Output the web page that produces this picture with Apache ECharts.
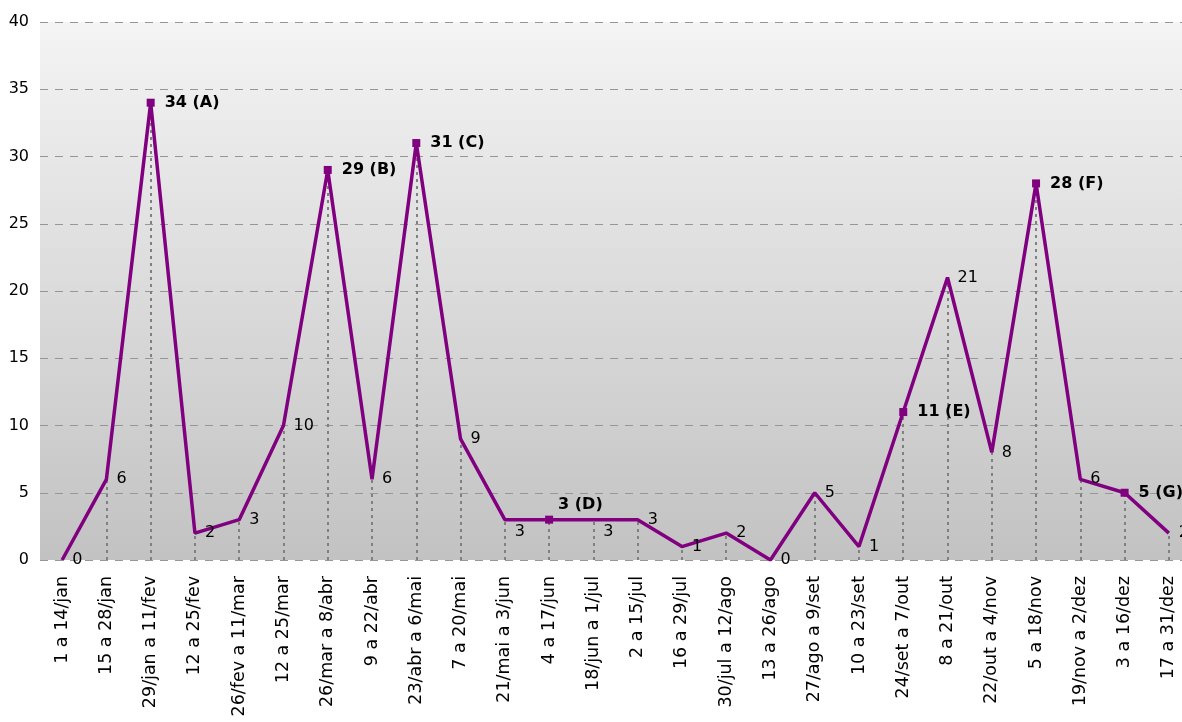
<!DOCTYPE html>
<html>
<head>
<meta charset="utf-8">
<style>
  html, body { margin: 0; padding: 0; background: #ffffff; overflow: hidden; }
  /* the plot runs a little past the right edge of the window */
  #chart { width: 1191px; height: 722px; }
</style>
<script src="https://cdn.jsdelivr.net/npm/echarts@6/dist/echarts.min.js"></script>
</head>
<body>
<div id="chart"></div>
<script>
// Fortnightly periods of the year
const periods = [
  '1 a 14/jan', '15 a 28/jan', '29/jan a 11/fev', '12 a 25/fev', '26/fev a 11/mar',
  '12 a 25/mar', '26/mar a 8/abr', '9 a 22/abr', '23/abr a 6/mai', '7 a 20/mai',
  '21/mai a 3/jun', '4 a 17/jun', '18/jun a 1/jul', '2 a 15/jul', '16 a 29/jul',
  '30/jul a 12/ago', '13 a 26/ago', '27/ago a 9/set', '10 a 23/set', '24/set a 7/out',
  '8 a 21/out', '22/out a 4/nov', '5 a 18/nov', '19/nov a 2/dez', '3 a 16/dez',
  '17 a 31/dez'
];

// Count per period
const counts = [0, 6, 34, 2, 3, 10, 29, 6, 31, 9, 3, 3, 3, 3, 1, 2, 0, 5, 1, 11, 21, 8, 28, 6, 5, 2];

// Highlighted peaks, tagged with a letter
const tags = ['', '', 'A', '', '', '', 'B', '', 'C', '', '', 'D', '', '', '', '', '', '', '', 'E', '', '', 'F', '', 'G', ''];

// Y axis ticks
const yTicks = [0, 5, 10, 15, 20, 25, 30, 35, 40];

// Label nudges for a few crowded points (pixels)
const labelNudge = { 10: [0, 12], 11: [-5, -15], 12: [0, 12] };

const FONT = 'DejaVu Sans';
const PURPLE = '#800080';

const lineData = counts.map((v, i) => {
  const tagged = tags[i] !== '';
  const item = {
    value: v,
    symbol: 'rect',
    symbolSize: tagged ? 8 : 0,
    label: {
      show: true,
      position: 'right',
      distance: 10,
      fontFamily: FONT,
      fontSize: 16,
      fontWeight: tagged ? 'bold' : 'normal',
      color: '#000',
      formatter: tagged ? (v + ' (' + tags[i] + ')') : String(v)
    }
  };
  if (labelNudge[i]) item.label.offset = labelNudge[i];
  return item;
});

// Dotted drop lines from each point down to the baseline
const dropLines = counts.map((v, i) => [
  { xAxis: i, yAxis: 0 },
  { xAxis: i, yAxis: v }
]);

const chart = echarts.init(document.getElementById('chart'), null, { renderer: 'canvas' });

chart.setOption({
  animation: false,
  backgroundColor: '#ffffff',
  grid: {
    left: 40,
    right: 0,
    top: 22,
    bottom: 162,
    show: true,
    borderWidth: 0,
    backgroundColor: new echarts.graphic.LinearGradient(0, 0, 0, 1, [
      { offset: 0, color: '#f4f4f4' },
      { offset: 1, color: '#c2c2c2' }
    ])
  },
  xAxis: {
    type: 'category',
    data: periods,
    boundaryGap: true,
    axisLine: { show: false },
    axisTick: { show: false },
    axisLabel: {
      rotate: 90,
      interval: 0,
      margin: 16,
      fontFamily: FONT,
      fontSize: 17.5,
      color: '#000'
    },
    splitLine: { show: false }
  },
  yAxis: {
    type: 'value',
    min: yTicks[0],
    max: yTicks[yTicks.length - 1],
    interval: yTicks[1] - yTicks[0],
    axisLine: { show: false },
    axisTick: { show: false },
    axisLabel: {
      margin: 11,
      fontFamily: FONT,
      fontSize: 16,
      color: '#000'
    },
    splitLine: {
      show: true,
      lineStyle: { color: '#969696', width: 1, type: [8, 7] }
    }
  },
  series: [{
    type: 'line',
    data: lineData,
    showSymbol: true,
    showAllSymbol: true,
    itemStyle: { color: PURPLE },
    lineStyle: { color: PURPLE, width: 3.5 },
    z: 3,
    markLine: {
      silent: true,
      symbol: ['none', 'none'],
      label: { show: false },
      lineStyle: { color: '#808080', width: 2, type: [3, 4] },
      data: dropLines,
      z: 1
    }
  }]
});
</script>
</body>
</html>
